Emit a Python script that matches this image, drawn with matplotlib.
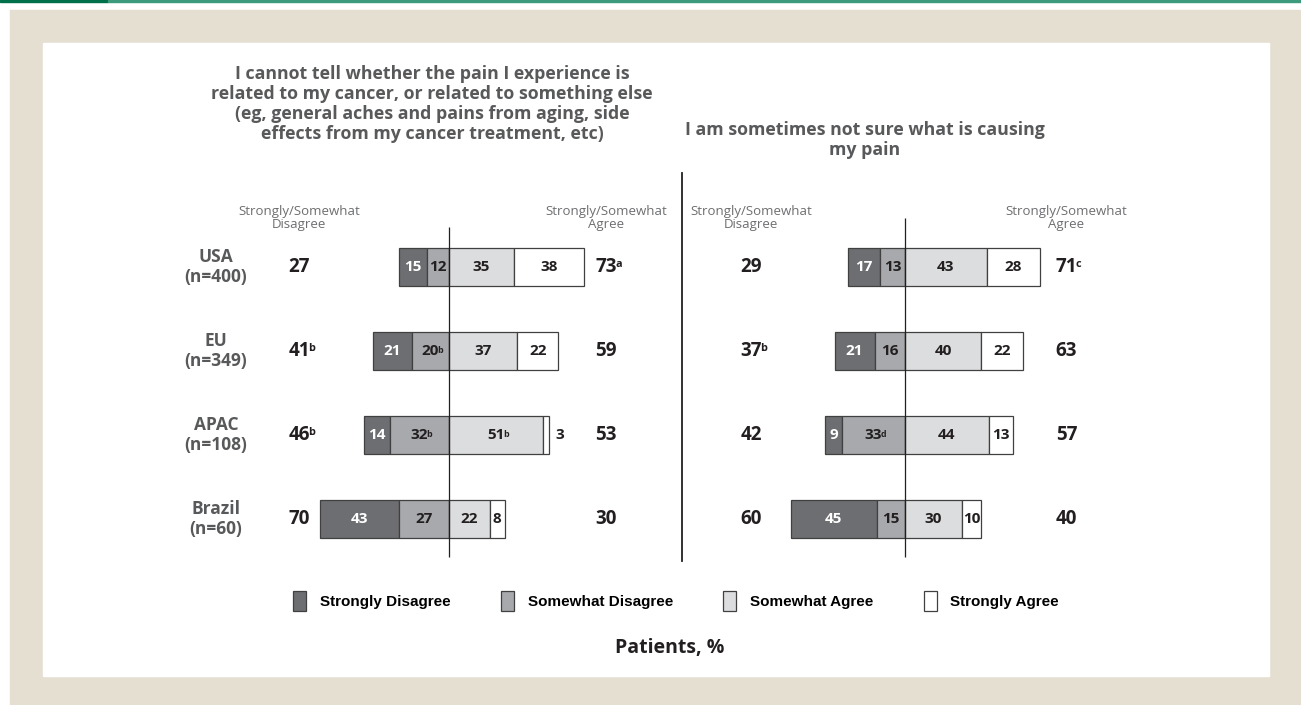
"""Diverging stacked bars: patient uncertainty about the cause of their pain."""

import matplotlib

matplotlib.use("Agg")
import matplotlib.pyplot as plt
from matplotlib.font_manager import FontProperties
from matplotlib.lines import Line2D
from matplotlib.patches import Patch, Rectangle

# ---- data -------------------------------------------------------------------
countries = ["USA", "EU", "APAC", "Brazil"]
sample_sizes = [400, 349, 108, 60]

q1_title = ("I cannot tell whether the pain I experience is\n"
            "related to my cancer, or related to something else\n"
            "(eg, general aches and pains from aging, side\n"
            "effects from my cancer treatment, etc)")
q1_strongly_disagree = [15, 21, 14, 43]
q1_somewhat_disagree = [12, 20, 32, 27]
q1_somewhat_agree = [35, 37, 51, 22]
q1_strongly_agree = [38, 22, 3, 8]
q1_disagree_total = [27, 41, 46, 70]
q1_agree_total = [73, 59, 53, 30]
q1_disagree_total_sup = ["", "b", "b", ""]
q1_agree_total_sup = ["a", "", "", ""]
q1_somewhat_disagree_sup = ["", "b", "b", ""]
q1_somewhat_agree_sup = ["", "", "b", ""]

q2_title = "I am sometimes not sure what is causing\nmy pain"
q2_strongly_disagree = [17, 21, 9, 45]
q2_somewhat_disagree = [13, 16, 33, 15]
q2_somewhat_agree = [43, 40, 44, 30]
q2_strongly_agree = [28, 22, 13, 10]
q2_disagree_total = [29, 37, 42, 60]
q2_agree_total = [71, 63, 57, 40]
q2_disagree_total_sup = ["", "b", "", ""]
q2_agree_total_sup = ["c", "", "", ""]
q2_somewhat_disagree_sup = ["", "", "d", ""]
q2_somewhat_agree_sup = ["", "", "", ""]

legend_labels = ["Strongly Disagree", "Somewhat Disagree", "Somewhat Agree", "Strongly Agree"]

# ---- style ------------------------------------------------------------------
W, H = 1301, 705
COLORS = ["#6d6e71", "#a7a9ac", "#dcddde", "#ffffff"]
EDGE = "#404041"
INK = "#231f20"
GREY_TEXT = "#58595b"
BEIGE = "#e5dfd2"
NUM_FONT = ["Open Sans", "DejaVu Sans"]

ROW0_PX, ROW_STEP_PX = 267, 84
AX_TOP_PX, AX_BOTTOM_PX = 170, 565
DIS_X, AGR_X = -81, 85


def fx(px):
    return px / W


def fy(py):
    return 1 - py / H


def row(py):
    return (py - ROW0_PX) / ROW_STEP_PX


def text_with_sup(ax, x, y, text, sup, size, color, **kw):
    t = ax.text(x, y, text, ha="center", va="center", fontsize=size,
                fontweight="bold", color=color, family=NUM_FONT, zorder=5, **kw)
    if sup:
        ax.annotate(sup, xy=(1, 0.88), xycoords=t, xytext=(-1.2, 0),
                    textcoords="offset points", ha="left", va="top",
                    fontsize=size * 0.58, fontweight="bold", color=color,
                    family=NUM_FONT, zorder=5)
    return t


def draw_chart(ax, center_px, px_per_pct, left_px, right_px, segs, seg_sups,
               dis_total, agr_total, dis_sup, agr_sup, line_top_px, show_countries):
    ax.set_position([fx(left_px), fy(AX_BOTTOM_PX), fx(right_px - left_px),
                     (AX_BOTTOM_PX - AX_TOP_PX) / H])
    ax.set_xlim(-(center_px - left_px) / px_per_pct, (right_px - center_px) / px_per_pct)
    ax.set_ylim(row(AX_BOTTOM_PX), row(AX_TOP_PX))
    ax.axis("off")

    ys = list(range(len(countries)))
    sd, swd, swa, sa = segs
    lefts = [
        [-(a + b) for a, b in zip(sd, swd)],
        [-b for b in swd],
        [0] * len(swa),
        list(swa),
    ]
    for k, (vals, lft) in enumerate(zip(segs, lefts)):
        ax.barh(ys, vals, left=lft, height=0.45, color=COLORS[k],
                edgecolor=EDGE, linewidth=0.9, zorder=2)
        txt_color = "white" if k == 0 else INK
        for i, (v, l) in enumerate(zip(vals, lft)):
            sup = seg_sups[k][i] if seg_sups[k] else ""
            if v * px_per_pct < 12:
                text_with_sup(ax, l + v + 6, i, str(v), sup, 11, INK)
            else:
                text_with_sup(ax, l + v / 2, i, str(v), sup, 11, txt_color)

    ax.vlines(0, row(line_top_px), row(557), color=INK, linewidth=0.9, zorder=4)

    for i in ys:
        text_with_sup(ax, DIS_X, i, str(dis_total[i]), dis_sup[i], 13.5, INK)
        text_with_sup(ax, AGR_X, i, str(agr_total[i]), agr_sup[i], 13.5, INK)
        if show_countries:
            ax.text(-126, i, f"{countries[i]}\n(n={sample_sizes[i]})", ha="center",
                    va="center", fontsize=12.5, fontweight="bold", color=GREY_TEXT,
                    family=NUM_FONT, linespacing=1.1)

    for x, lab in [(DIS_X, "Disagree"), (AGR_X, "Agree")]:
        ax.text(x, row(218), f"Strongly/Somewhat\n{lab}", ha="center", va="center",
                fontsize=9.5, color="#6d6e71", family=NUM_FONT, linespacing=1.05)


fig = plt.figure(figsize=(W / 100, H / 100), dpi=100)
fig.patch.set_facecolor("white")

# page furniture
fig.add_artist(Rectangle((0, fy(2)), fx(108), 2 / H, transform=fig.transFigure,
                         color="#00704a", zorder=0))
fig.add_artist(Rectangle((fx(108), fy(2)), 1 - fx(108), 2 / H, transform=fig.transFigure,
                         color="#3e9a7c", zorder=0))
fig.add_artist(Rectangle((fx(10), 0), 1 - fx(10), fy(10), transform=fig.transFigure,
                         color=BEIGE, zorder=0))
fig.add_artist(Rectangle((fx(43), fy(676)), fx(1269 - 43), (676 - 43) / H,
                         transform=fig.transFigure, color="white", zorder=0))

ax1 = fig.add_axes([0, 0, 1, 1])
ax2 = fig.add_axes([0, 0, 1, 1])
for a in (ax1, ax2):
    a.set_facecolor("none")

draw_chart(ax1, 449, 1.85, 160, 680,
           (q1_strongly_disagree, q1_somewhat_disagree, q1_somewhat_agree, q1_strongly_agree),
           (None, q1_somewhat_disagree_sup, q1_somewhat_agree_sup, None),
           q1_disagree_total, q1_agree_total, q1_disagree_total_sup, q1_agree_total_sup,
           227, True)
draw_chart(ax2, 905, 1.9, 686, 1230,
           (q2_strongly_disagree, q2_somewhat_disagree, q2_somewhat_agree, q2_strongly_agree),
           (None, q2_somewhat_disagree_sup, q2_somewhat_agree_sup, None),
           q2_disagree_total, q2_agree_total, q2_disagree_total_sup, q2_agree_total_sup,
           218, False)

# divider between the two questions
fig.add_artist(Line2D([fx(682), fx(682)], [fy(173), fy(561)], transform=fig.transFigure,
                      color=INK, linewidth=1.3))

fig.text(fx(432), fy(104), q1_title, ha="center", va="center", fontsize=12.8,
         fontweight="bold", color=GREY_TEXT, family=NUM_FONT, linespacing=1.12)
fig.text(fx(865), fy(140), q2_title, ha="center", va="center", fontsize=12.8,
         fontweight="bold", color=GREY_TEXT, family=NUM_FONT, linespacing=1.12)

handles = [Patch(facecolor=c, edgecolor=EDGE, linewidth=0.9) for c in COLORS]
fig.legend(handles, legend_labels, loc="center", bbox_to_anchor=(fx(676), fy(601)),
           ncol=4, frameon=False, handlelength=0.85, handleheight=1.7,
           handletextpad=0.9, columnspacing=3.3,
           prop=FontProperties(family=["Liberation Sans", "DejaVu Sans"],
                               weight="bold", size=11))

fig.text(fx(670), fy(648), "Patients, %", ha="center", va="center", fontsize=14,
         fontweight="bold", color=INK, family=NUM_FONT)

fig.savefig("out.png", dpi=100, facecolor=fig.get_facecolor())
